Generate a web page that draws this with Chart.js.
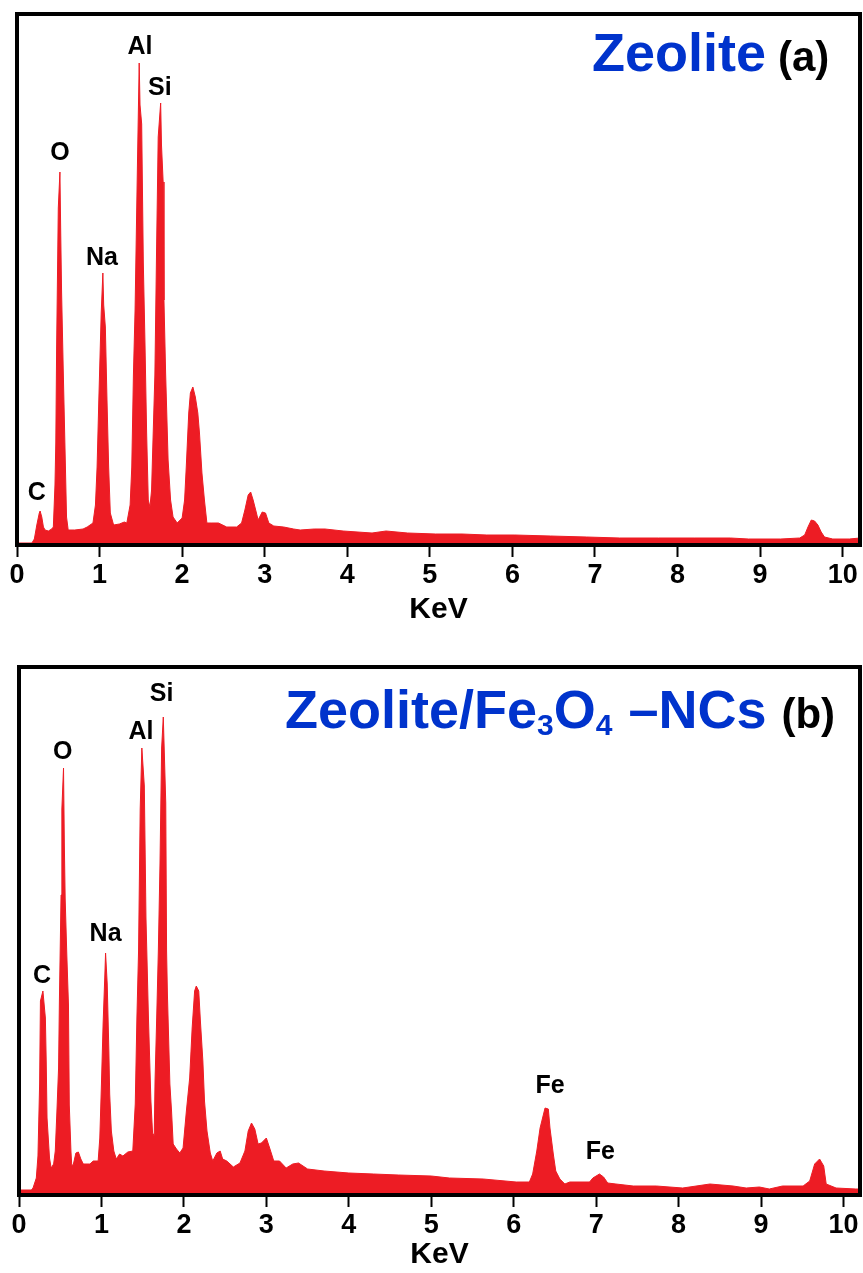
<!DOCTYPE html>
<html lang="en">
<head>
    <meta charset="UTF-8">
    <title>EDS - Zeolite and Zeolite/Fe3O4-NCs</title>
    <script src="https://cdn.jsdelivr.net/npm/chart.js"></script>
    <style>
        body {
            margin: 0;
            background: #fff;
        }
        canvas {
            position: absolute;
            left: 0;
        }
        #chartA { top: 0; }
        #chartB { top: 650px; }
    </style>
</head>
<body>
    <canvas id="chartA" width="863" height="640"></canvas>
    <canvas id="chartB" width="863" height="623"></canvas>

    <script>
        // Spectrum (a) Zeolite - energy (keV) and intensity (a.u.)
        const energyA = [0.00, 0.18, 0.21, 0.24, 0.27, 0.28, 0.30, 0.32, 0.34, 0.38, 0.42, 0.44, 0.46, 0.47, 0.48, 0.50, 0.52, 0.53, 0.54, 0.56,
            0.58, 0.60, 0.62, 0.70, 0.80, 0.85, 0.92, 0.95, 0.97, 0.99, 1.02, 1.04, 1.05, 1.07, 1.09, 1.11, 1.13, 1.17, 1.24, 1.30,
            1.33, 1.37, 1.39, 1.41, 1.43, 1.46, 1.48, 1.49, 1.51, 1.53, 1.55, 1.57, 1.59, 1.61, 1.63, 1.64, 1.67, 1.69, 1.71, 1.74,
            1.75, 1.77, 1.78, 1.80, 1.83, 1.86, 1.89, 1.94, 2.00, 2.03, 2.05, 2.08, 2.10, 2.13, 2.16, 2.19, 2.21, 2.24, 2.27, 2.30,
            2.36, 2.44, 2.54, 2.66, 2.72, 2.76, 2.80, 2.83, 2.86, 2.90, 2.92, 2.97, 3.01, 3.05, 3.11, 3.23, 3.35, 3.43, 3.60, 3.73,
            3.95, 4.30, 4.47, 4.73, 5.07, 5.39, 5.69, 6.03, 6.46, 6.90, 7.30, 7.77, 8.21, 8.64, 8.86, 9.25, 9.48, 9.54, 9.58, 9.62,
            9.66, 9.70, 9.74, 9.78, 9.88, 10.08, 10.21];
        const countsA = [2, 2, 6, 20, 32, 34, 28, 18, 15, 14, 16, 18, 60, 102, 198, 337, 373, 310, 253, 175,
            102, 28, 15, 15, 16, 18, 22, 40, 78, 142, 232, 272, 240, 218, 145, 78, 32, 20, 21, 23,
            22, 40, 78, 170, 235, 386, 482, 440, 421, 282, 202, 112, 45, 38, 55, 85, 170, 293, 408, 442,
            400, 363, 245, 172, 85, 45, 28, 22, 27, 45, 78, 132, 152, 158, 148, 132, 112, 72, 45, 22,
            22, 22, 18, 18, 22, 35, 50, 53, 45, 32, 25, 33, 32, 22, 19, 18, 16, 15, 16, 16,
            14, 12, 14, 12, 11, 11, 10, 10, 9, 8, 7, 7, 7, 7, 6, 6, 7, 10, 18, 25,
            24, 20, 13, 8, 6, 6, 7];

        // Spectrum (b) Zeolite/Fe3O4-NCs
        const energyB = [0.00, 0.15, 0.17, 0.21, 0.23, 0.25, 0.26, 0.29, 0.32, 0.33, 0.34, 0.37, 0.39, 0.42, 0.44, 0.46, 0.48, 0.49, 0.51, 0.52,
            0.54, 0.55, 0.56, 0.58, 0.60, 0.61, 0.63, 0.64, 0.66, 0.69, 0.72, 0.75, 0.78, 0.86, 0.90, 0.96, 0.98, 1.00, 1.02, 1.04,
            1.05, 1.07, 1.09, 1.10, 1.12, 1.15, 1.18, 1.22, 1.26, 1.32, 1.38, 1.41, 1.43, 1.45, 1.47, 1.49, 1.52, 1.54, 1.55, 1.57,
            1.60, 1.62, 1.64, 1.65, 1.67, 1.69, 1.71, 1.73, 1.75, 1.78, 1.79, 1.80, 1.83, 1.85, 1.87, 1.91, 1.95, 1.99, 2.03, 2.07,
            2.10, 2.13, 2.15, 2.18, 2.20, 2.23, 2.25, 2.28, 2.32, 2.35, 2.40, 2.44, 2.47, 2.52, 2.60, 2.68, 2.74, 2.78, 2.82, 2.86,
            2.90, 2.94, 3.00, 3.04, 3.09, 3.16, 3.24, 3.32, 3.39, 3.50, 3.70, 4.00, 4.30, 4.60, 5.00, 5.22, 5.63, 6.03, 6.19, 6.23,
            6.28, 6.32, 6.38, 6.42, 6.44, 6.48, 6.51, 6.56, 6.62, 6.68, 6.92, 6.96, 7.04, 7.09, 7.14, 7.24, 7.45, 7.73, 8.05, 8.38,
            8.66, 8.82, 8.98, 9.10, 9.26, 9.51, 9.59, 9.65, 9.71, 9.76, 9.79, 9.91, 10.15, 10.20];
        const countsB = [5, 5, 7, 17, 39, 111, 194, 204, 177, 134, 77, 37, 27, 31, 44, 84, 127, 194, 300, 386,
            427, 350, 296, 240, 190, 90, 44, 29, 31, 42, 43, 36, 31, 31, 34, 34, 57, 111, 171, 217,
            242, 211, 144, 101, 64, 44, 36, 41, 39, 43, 44, 91, 177, 244, 386, 447, 409, 277, 244, 177,
            94, 62, 59, 114, 177, 244, 331, 447, 478, 392, 244, 201, 111, 84, 51, 46, 42, 47, 84, 117,
            167, 204, 209, 204, 174, 134, 94, 64, 42, 34, 42, 44, 36, 34, 28, 32, 44, 64, 72, 66,
            51, 52, 57, 47, 34, 34, 27, 31, 32, 26, 24, 22, 21, 20, 19, 17, 16, 13, 13, 21,
            44, 67, 87, 86, 67, 41, 24, 16, 11, 13, 13, 17, 21, 18, 12, 11, 9, 9, 7, 11,
            9, 7, 8, 6, 9, 9, 14, 31, 36, 29, 11, 7, 6, 6];

        // Peak labels: element, energy (keV), label height (a.u.)
        const peakNamesA = ['C', 'O', 'Na', 'Al', 'Si'];
        const peakKeVA = [0.24, 0.52, 1.03, 1.49, 1.73];
        const peakLabelYA = [52, 392, 287, 498, 457];

        const peakNamesB = ['C', 'O', 'Na', 'Al', 'Si', 'Fe', 'Fe'];
        const peakKeVB = [0.28, 0.53, 1.05, 1.48, 1.73, 6.44, 7.05];
        const peakLabelYB = [219, 443, 261, 463, 501, 109, 43];

        const RED = '#ed1c24';
        const BLUE = '#0033cc';
        const FONT = '"Liberation Sans", Arial, sans-serif';

        // black box round the plot area
        const frame = {
            id: 'frame',
            afterDatasetsDraw(chart) {
                const { ctx, chartArea: a } = chart;
                ctx.save();
                ctx.strokeStyle = '#000';
                ctx.lineWidth = 4;
                ctx.strokeRect(a.left, a.top, a.right - a.left, a.bottom - a.top);
                ctx.restore();
            }
        };

        function peakLabels(names, kev, heights) {
            return {
                id: 'peakLabels',
                afterDraw(chart) {
                    const { ctx, scales: { x, y } } = chart;
                    ctx.save();
                    ctx.font = 'bold 25px ' + FONT;
                    ctx.fillStyle = '#000';
                    ctx.textAlign = 'center';
                    ctx.textBaseline = 'middle';
                    names.forEach((n, i) => {
                        ctx.fillText(n, x.getPixelForValue(kev[i]), y.getPixelForValue(heights[i]));
                    });
                    ctx.restore();
                }
            };
        }

        // title made of pieces (for the subscripts)
        function panelTitle(parts, x0, baseline) {
            return {
                id: 'panelTitle',
                afterDraw(chart) {
                    const ctx = chart.ctx;
                    ctx.save();
                    ctx.textBaseline = 'alphabetic';
                    ctx.textAlign = 'left';
                    let x = x0;
                    parts.forEach(p => {
                        ctx.font = 'bold ' + p.size + 'px ' + FONT;
                        ctx.fillStyle = p.color;
                        ctx.fillText(p.text, x, baseline + (p.shift || 0));
                        x += ctx.measureText(p.text).width + (p.gap || 0);
                    });
                    ctx.restore();
                }
            };
        }

        function buildChart(id, energy, counts, opts) {
            return new Chart(document.getElementById(id), {
                type: 'line',
                data: {
                    datasets: [{
                        data: energy.map((e, i) => ({ x: e, y: counts[i] })),
                        borderColor: RED,
                        backgroundColor: RED,
                        borderWidth: 1,
                        fill: 'origin',
                        pointRadius: 0,
                        tension: 0
                    }]
                },
                options: {
                    responsive: false,
                    animation: false,
                    events: [],
                    layout: { padding: { left: opts.left, right: 3, top: opts.top, bottom: 0 } },
                    plugins: {
                        legend: { display: false },
                        tooltip: { enabled: false }
                    },
                    scales: {
                        x: {
                            type: 'linear',
                            min: 0,
                            max: opts.xMax,
                            afterFit: (s) => { s.height = opts.axisHeight; },
                            grid: { drawOnChartArea: false, tickLength: 12, tickWidth: 2, tickColor: '#000' },
                            border: { display: false },
                            ticks: {
                                stepSize: 1,
                                includeBounds: false,
                                padding: 2,
                                color: '#000',
                                font: { family: FONT, size: 27, weight: 'bold' }
                            },
                            title: {
                                display: true,
                                text: 'KeV',
                                color: '#000',
                                font: { family: FONT, size: 30, weight: 'bold' },
                                padding: { top: 0, bottom: opts.titlePad }
                            }
                        },
                        y: { display: false, min: 0, max: opts.yMax }
                    }
                },
                plugins: [frame, ...opts.extra]
            });
        }

        buildChart('chartA', energyA, countsA, {
            left: 17, top: 14, xMax: 10.21, yMax: 531, axisHeight: 95, titlePad: 12,
            extra: [
                peakLabels(peakNamesA, peakKeVA, peakLabelYA),
                panelTitle([
                    { text: 'Zeolite', size: 54, color: BLUE, gap: 12 },
                    { text: '(a)', size: 42, color: '#000' }
                ], 592, 71)
            ]
        });

        buildChart('chartB', energyB, countsB, {
            left: 19, top: 17, xMax: 10.2, yMax: 528, axisHeight: 78, titlePad: 0,
            extra: [
                peakLabels(peakNamesB, peakKeVB, peakLabelYB),
                panelTitle([
                    { text: 'Zeolite/Fe', size: 54, color: BLUE },
                    { text: '3', size: 30, color: BLUE, shift: 7 },
                    { text: 'O', size: 54, color: BLUE },
                    { text: '4', size: 30, color: BLUE, shift: 7, gap: 16 },
                    { text: '\u2013NCs', size: 54, color: BLUE, gap: 15 },
                    { text: '(b)', size: 42, color: '#000' }
                ], 285, 78)
            ]
        });
    </script>
</body>
</html>
